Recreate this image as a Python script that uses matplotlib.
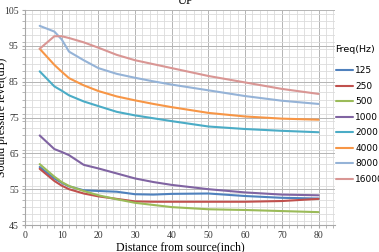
import matplotlib
matplotlib.use("Agg")
import matplotlib.pyplot as plt
from matplotlib.ticker import MultipleLocator

distance = [4, 8, 10, 12, 16, 20, 25, 30, 35, 40, 50, 60, 70, 80]
f125 = [61.2, 58.0, 56.8, 55.8, 54.7, 54.5, 54.3, 53.6, 53.5, 53.7, 53.8, 53.1, 52.6, 52.4]
f250 = [60.7, 57.3, 56.0, 55.0, 53.8, 53.0, 52.3, 51.6, 51.5, 51.5, 51.5, 51.5, 51.7, 52.3]
f500 = [62.0, 58.5, 57.0, 55.9, 54.5, 53.3, 52.2, 51.2, 50.6, 50.0, 49.4, 49.2, 48.9, 48.6]
f1000 = [70.0, 66.2, 65.4, 64.5, 61.8, 60.8, 59.4, 58.0, 57.0, 56.2, 55.0, 54.1, 53.5, 53.3]
f2000 = [87.9, 83.7, 82.5, 81.2, 79.5, 78.2, 76.6, 75.6, 74.8, 74.0, 72.5, 71.8, 71.3, 70.9]
f4000 = [94.2, 89.7, 87.8, 86.0, 84.0, 82.4, 80.9, 79.8, 78.8, 77.9, 76.3, 75.3, 74.7, 74.4]
f8000 = [100.6, 99.0, 96.8, 93.4, 91.0, 88.8, 87.2, 86.1, 85.1, 84.2, 82.6, 81.0, 79.7, 78.8]
f16000 = [94.2, 97.7, 97.7, 97.2, 96.0, 94.5, 92.5, 91.0, 89.9, 88.8, 86.6, 84.8, 83.0, 81.6]

labels = ["125", "250", "500", "1000", "2000", "4000", "8000", "16000"]
series = [f125, f250, f500, f1000, f2000, f4000, f8000, f16000]
colors = ["#4F81BD", "#C0504D", "#9BBB59", "#8064A2", "#4BACC6", "#F79646", "#95B3D7", "#D99694"]

serif = ["Liberation Serif", "DejaVu Serif"]

fig = plt.figure(figsize=(3.79, 2.52), dpi=100)
ax = fig.add_axes([0.066, 0.107, 0.818, 0.853])

for vals, lab, c in zip(series, labels, colors):
    ax.plot(distance, vals, color=c, lw=1.5, label=lab, solid_capstyle="round")

ax.set_xlim(0, 84.5)
ax.set_ylim(45, 105)
ax.xaxis.set_major_locator(MultipleLocator(10))
ax.xaxis.set_minor_locator(MultipleLocator(2))
ax.yaxis.set_minor_locator(MultipleLocator(2))
ax.set_yticks([45, 55, 65, 75, 85, 95, 105])
ax.grid(which="major", color="#b4b4b4", lw=0.7)
ax.grid(which="minor", color="#dcdcdc", lw=0.6)
ax.set_axisbelow(True)
for s in ["top", "right"]:
    ax.spines[s].set_visible(False)
for s in ["left", "bottom"]:
    ax.spines[s].set_color("#a8a8a8")
    ax.spines[s].set_linewidth(0.8)
ax.tick_params(which="both", length=2.5, color="#a8a8a8", labelsize=7, pad=2)
for t in ax.get_xticklabels() + ax.get_yticklabels():
    t.set_family(serif)
    t.set_color("#333333")

ax.set_xlabel("Distance from source(inch)", family=serif, fontsize=8.5, labelpad=1)
ax.set_ylabel("Sound pressure level(dB)", family=serif, fontsize=8.5)
ax.yaxis.set_label_coords(-0.055, 0.5)

fig.text(0.49, 0.972, "UP", family=serif, fontsize=9, ha="center", va="bottom")

leg = ax.legend(title="Freq(Hz)", loc="upper left", bbox_to_anchor=(0.99, 0.855),
                frameon=False, fontsize=6.5, title_fontsize=6.8,
                handlelength=1.9, handletextpad=0.3, labelspacing=0.72,
                borderaxespad=0)
leg._legend_box.align = "left"
leg._legend_box.sep = 9

fig.savefig("out.png", dpi=100)
